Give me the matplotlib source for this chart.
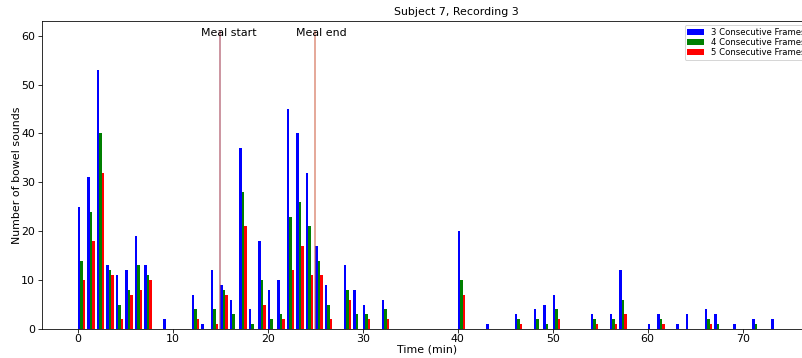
import matplotlib
matplotlib.use("Agg")
import matplotlib.pyplot as plt
import numpy as np

# Minute bins with at least one detection, and counts per detection threshold
minutes = [0, 1, 2, 3, 4, 5, 6, 7, 9, 12, 13, 14, 15, 16, 17, 18, 19, 20, 21,
           22, 23, 24, 25, 26, 28, 29, 30, 32, 40, 43, 46, 48, 49, 50, 54, 56,
           57, 60, 61, 63, 64, 66, 67, 69, 71, 73]
frames3 = [25, 31, 53, 13, 11, 12, 19, 13, 2, 7, 1, 12, 9, 6, 37, 4, 18, 8, 10,
           45, 40, 32, 17, 9, 13, 8, 5, 6, 20, 1, 3, 4, 5, 7, 3, 3,
           12, 1, 3, 1, 3, 4, 3, 1, 2, 2]
frames4 = [14, 24, 40, 12, 5, 8, 13, 11, 0, 4, 0, 4, 8, 3, 28, 1, 10, 2, 3,
           23, 26, 21, 14, 5, 8, 3, 3, 4, 10, 0, 2, 2, 1, 4, 2, 2,
           6, 0, 2, 0, 0, 2, 1, 0, 1, 0]
frames5 = [10, 18, 32, 11, 2, 7, 8, 10, 0, 2, 0, 1, 7, 0, 21, 0, 5, 0, 2,
           12, 17, 11, 11, 2, 6, 0, 2, 2, 7, 0, 1, 0, 0, 2, 1, 1,
           3, 0, 1, 0, 0, 1, 0, 0, 0, 0]
series_labels = ["3 Consecutive Frames", "4 Consecutive Frames", "5 Consecutive Frames"]
series_colors = ["blue", "green", "red"]

meal_start = 15
meal_end = 25

fig = plt.figure(figsize=(802 / 72, 358 / 72), dpi=72)
ax = fig.add_axes([42 / 802, 29 / 358, 771 / 802, 308 / 358])

x = np.array(minutes, dtype=float)
width = 0.27
for i, (vals, lab, col) in enumerate(zip([frames3, frames4, frames5], series_labels, series_colors)):
    ax.bar(x + i * width, vals, width=width, align="edge", color=col, label=lab)

ax.vlines(meal_start, 0, 61, color="#a8485a", alpha=0.75, linewidth=1.5)
ax.vlines(meal_end, 0, 61, color="#d2694e", alpha=0.75, linewidth=1.5)
ax.text(meal_start - 2, 60, "Meal start", fontsize=11)
ax.text(meal_end - 2, 60, "Meal end", fontsize=11)

ax.set_xlim(-3.75, 77.4)
ax.set_ylim(0, 63)
ax.set_xticks([0, 10, 20, 30, 40, 50, 60, 70])
ax.set_yticks([0, 10, 20, 30, 40, 50, 60])
ax.tick_params(labelsize=11, length=4)
ax.tick_params(axis="x", pad=1)
ax.tick_params(axis="y", pad=3)
ax.set_xlabel("Time (min)", fontsize=11, labelpad=1)
ax.set_ylabel("Number of bowel sounds", fontsize=11, labelpad=-1)
ax.set_title("Subject 7, Recording 3", fontsize=11, x=0.537)
ax.legend(loc="upper right", fontsize=8.5, labelspacing=0.1, borderpad=0.35)

fig.savefig("out.png", dpi=72)
